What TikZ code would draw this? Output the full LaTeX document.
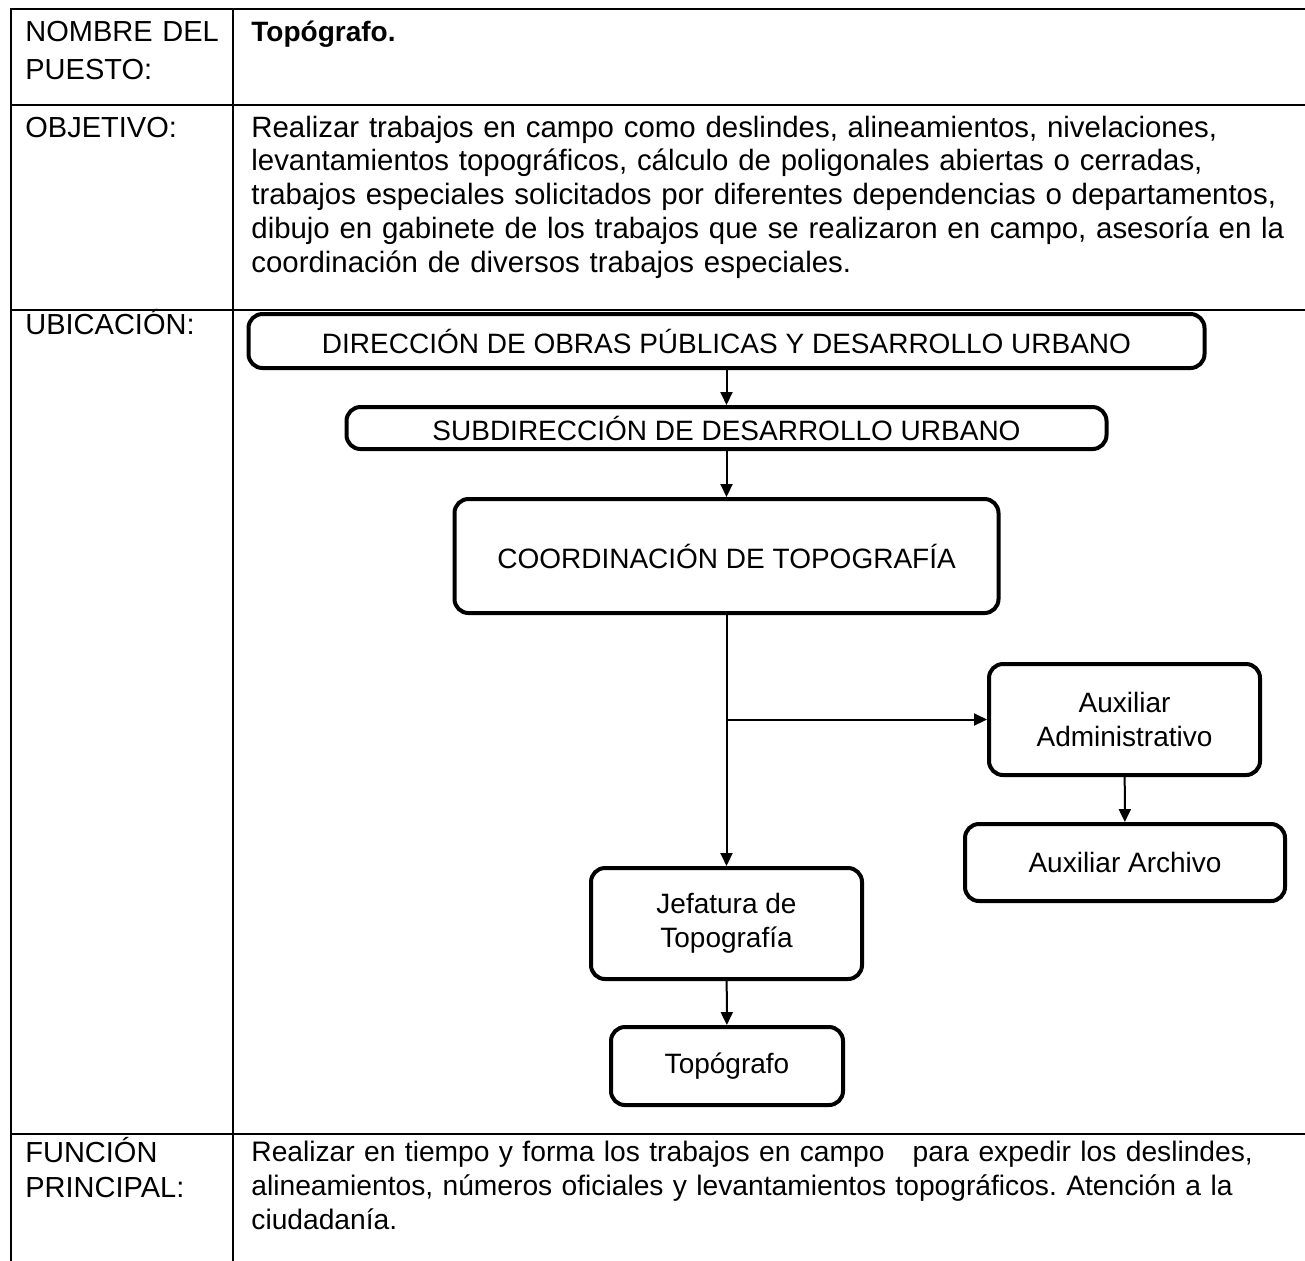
\documentclass[tikz,border=0pt]{standalone}
\usepackage{fontspec}
\setmainfont{Liberation Sans}
\usepackage{tikz}
\usetikzlibrary{arrows.meta,positioning}
\frenchspacing

\begin{document}
\begin{tikzpicture}[
    x=0.5pt, y=-0.5pt,
    rule/.style={line width=1.2pt},
    cell/.style={anchor=base west, inner sep=0pt, align=left, text width=#1, font=\fontsize{14.5}{17}\selectfont},
    cell/.default=524pt,
    box/.style={draw, line width=2pt, rounded corners=7pt, align=center, inner sep=0pt, font=\fontsize{14}{17}\selectfont},
    arrow/.style={-{Triangle[length=6.5pt,width=6pt]}, line width=1pt}
]
\useasboundingbox (0,0) rectangle (1305,1260);
\draw[rule] (11,1270) -- (11,9) -- (1310,9);
\draw[rule] (233,9) -- (233,1270);
\draw[rule] (11,105) -- (1310,105);
\draw[rule] (11,310) -- (1310,310);
\draw[rule] (11,1134) -- (1310,1134);
\node[cell=100pt, font=\fontsize{14.5}{19}\selectfont] (puestolbl) at (25,41) {NOMBRE DEL\\PUESTO:};
\node[cell, font=\fontsize{14}{17}\selectfont\bfseries] (puesto) at (251,41) {Topógrafo.};
\node[cell=100pt] (objlbl) at (25,137) {OBJETIVO:};
\node[cell, font=\fontsize{14.7}{16.9}\selectfont] (obj) at (251,137) {Realizar trabajos en campo como deslindes, alineamientos, nivelaciones,\\levantamientos topográficos, cálculo de poligonales abiertas o cerradas,\\trabajos especiales solicitados por diferentes dependencias o departamentos,\\dibujo en gabinete de los trabajos que se realizaron en campo, asesoría en la\\coordinación de diversos trabajos especiales.};
\node[cell=100pt] (ubilbl) at (25,334) {UBICACIÓN:};
\node[cell=100pt, font=\fontsize{14.5}{17.5}\selectfont] (funlbl) at (25,1162) {FUNCIÓN\\PRINCIPAL:};
\node[cell, font=\fontsize{14.1}{17}\selectfont] (fun) at (251,1161) {Realizar en tiempo y forma los trabajos en campo\ \ \ para expedir los deslindes,\\alineamientos, números oficiales y levantamientos topográficos. Atención a la\\ciudadanía.};
\node[box, minimum width=478pt, minimum height=27pt] (dir) at (726.5,341) {DIRECCIÓN DE OBRAS PÚBLICAS Y DESARROLLO URBANO};
\node[box, minimum width=380pt, minimum height=21pt] (sub) at (726.5,428) {SUBDIRECCIÓN DE DESARROLLO URBANO};
\node[box, minimum width=272pt, minimum height=57pt] (coord) at (726.5,556) {COORDINACIÓN DE TOPOGRAFÍA};
\node[box, minimum width=135.5pt, minimum height=55.5pt] (auxadm) at (1124.5,719.5) {Auxiliar\\Administrativo};
\node[box, minimum width=160pt, minimum height=38.5pt] (auxarch) at (1125,862.5) {Auxiliar Archivo};
\node[box, minimum width=135.5pt, minimum height=55.5pt] (jef) at (726.5,923.5) {Jefatura de\\Topografía};
\node[box, minimum width=116pt, minimum height=39pt] (topo) at (727,1066) {Topógrafo};
\coordinate (br) at (coord.south |- auxadm.west);
\draw[arrow] (dir) -- (sub);
\draw[arrow] (sub) -- (coord);
\draw[arrow] (coord) -- (jef);
\draw[arrow] (br) -- (auxadm);
\draw[arrow] (auxadm) -- (auxarch);
\draw[arrow] (jef) -- (topo);
\end{tikzpicture}
\end{document}
